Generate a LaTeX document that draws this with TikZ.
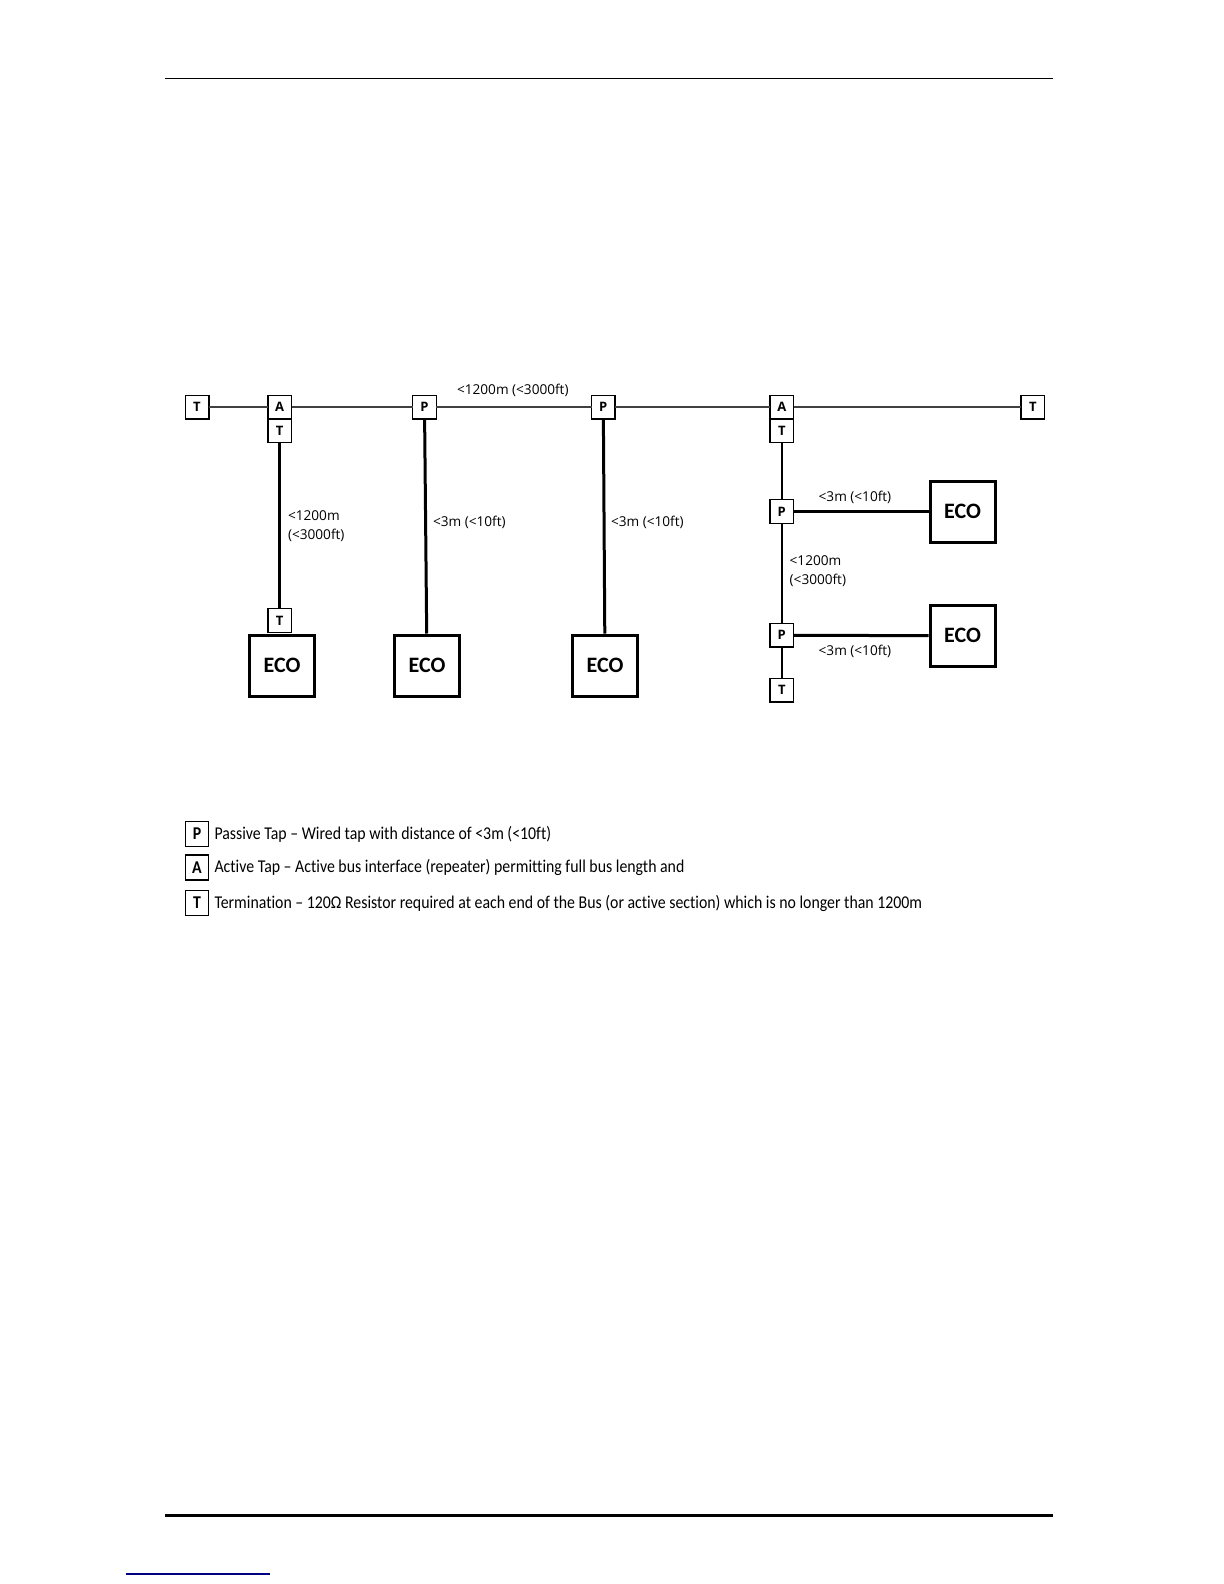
\documentclass[tikz,border=0pt]{standalone}
\usepackage{fontspec}
\setmainfont{Open Sans}
\newfontfamily\ecofont{Carlito}
\newfontfamily\legendfont[FakeStretch=0.88, Ligatures=NoCommon]{Carlito}
\usetikzlibrary{positioning}

\begin{document}
\begin{tikzpicture}[
		x=0.5pt, y=-0.5pt,
		tap/.style={draw, line width=0.7pt, fill=white, minimum width=11.8pt, minimum height=11.8pt, inner sep=0pt, outer sep=0pt, font=\fontsize{6.5}{7}\selectfont\bfseries},
		eco/.style={draw, line width=1.5pt, minimum width=32.5pt, minimum height=30.5pt, inner sep=0pt, font=\ecofont\fontsize{11}{12}\selectfont\bfseries},
		bus/.style={line width=1.1pt, black!75},
		drop/.style={line width=1.5pt},
		stub/.style={line width=1pt},
		lbl/.style={font=\fontsize{6.8}{9.7}\selectfont, inner sep=0pt, anchor=west, align=left},
		key/.style={draw, line width=0.6pt, minimum width=11.5pt, minimum height=12.5pt, inner sep=0pt, font=\legendfont\fontsize{9}{10}\selectfont\bfseries},
		keytext/.style={font=\legendfont\fontsize{9}{10}\selectfont, inner sep=0pt},
	]
	\useasboundingbox (0,0) rectangle (1224,1584);

	% -- page rules --
	\draw[line width=0.7pt] (165,78.8) -- (1053,78.8);
	\draw[line width=1.5pt] (165,1515) -- (1053,1515);
	\draw[line width=0.6pt, blue!50!black] (126,1574) -- (270,1574);

	% -- main bus --
	\node [tap] (tL) at (197,407) {T};
	\node [tap] (aL) at (279.7,407) {A};
	\node [tap,below=0pt of aL] (aLt) {T};
	\node [tap] (p1) at (424.5,407) {P};
	\node [tap] (p2) at (603.3,407) {P};
	\node [tap] (aR) at (781.8,407) {A};
	\node [tap,below=0pt of aR] (aRt) {T};
	\node [tap] (tR) at (1032.8,407) {T};

	\draw[bus] (tL) -- (aL);
	\draw[bus] (aL) -- (p1);
	\draw[bus] (p1) -- (p2);
	\draw[bus] (p2) -- (aR);
	\draw[bus] (aR) -- (tR);
	\node [lbl] (busl) at (456.7,390.7) {<1200m (<3000ft)};

	% -- left drops --
	\node [eco] (e1) at (282,665.5) {ECO};
	\node [tap] (te1) at (279.7,620.5) {T};
	\node [eco] (e2) at (427,665.5) {ECO};
	\node [eco] (e3) at (605,665.5) {ECO};

	\draw[drop] (aLt) -- (te1);
	\draw[drop] (p1) -- (e2);
	\draw[drop] (p2) -- (e3);
	\node [lbl] (l1) at (287.7,526.3) {<1200m\\(<3000ft)};
	\node [lbl] (l2) at (432.7,522.3) {<3m (<10ft)};
	\node [lbl] (l3) at (610.7,522.3) {<3m (<10ft)};

	% -- active section --
	\node [tap] (p3) at (781.8,511.5) {P};
	\node [tap] (p4) at (781.8,635.3) {P};
	\node [tap] (tB) at (781.8,690.3) {T};
	\node [eco] (e4) at (962.5,511.5) {ECO};
	\node [eco] (e5) at (962.5,635.7) {ECO};

	\draw[stub] (aRt) -- (p3);
	\draw[stub] (p3) -- (p4);
	\draw[stub] (p4) -- (tB);
	\draw[drop] (p3) -- (e4);
	\draw[drop] (p4) -- (e5);
	\node [lbl] (l4) at (818.3,497.7) {<3m (<10ft)};
	\node [lbl] (l5) at (789.3,571.2) {<1200m\\(<3000ft)};
	\node [lbl] (l6) at (818.3,651.7) {<3m (<10ft)};

	% -- legend --
	\node [key] (kP) at (197,834) {P};
	\node [key] (kA) at (197,867.5) {A};
	\node [key] (kT) at (197,903) {T};
	\node [keytext,right=2.5pt of kP] (kPt) {Passive Tap – Wired tap with distance of <3m (<10ft)};
	\node [keytext,right=2.5pt of kA] (kAt) {Active Tap – Active bus interface (repeater) permitting full bus length and};
	\node [keytext,right=2.5pt of kT] (kTt) {Termination – 120Ω Resistor required at each end of the Bus (or active section) which is no longer than 1200m};
\end{tikzpicture}
\end{document}
